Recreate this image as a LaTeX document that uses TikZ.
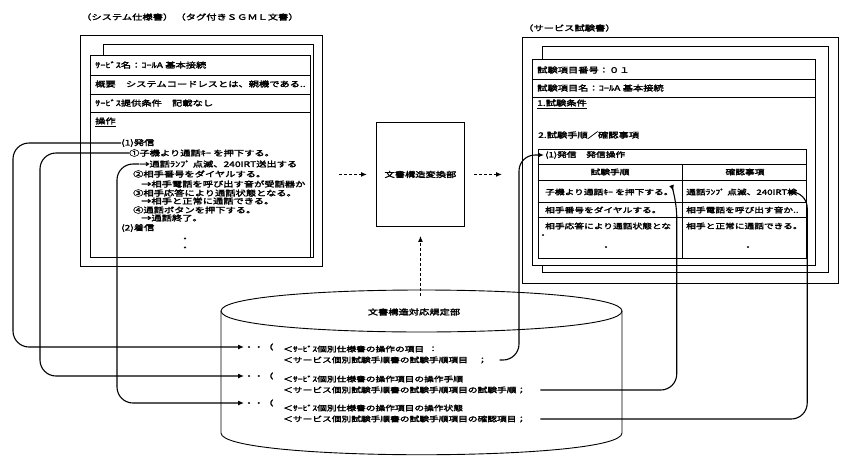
\documentclass[tikz,border=0pt]{standalone}
\usepackage{fontspec}
\usepackage{tikz}
\usetikzlibrary{positioning,arrows.meta}
\newfontfamily\jp[FakeBold=2.5,FakeStretch=1.35]{Noto Sans CJK JP}
\tikzset{>={Latex[length=6pt,width=5pt]}}
\tikzset{
  sheet/.style={draw, line width=0.9pt, fill=white, inner sep=0pt},
  txt/.style={anchor=west, inner sep=0pt, font=\jp\fontsize{7.6}{9}\selectfont},
  smalltxt/.style={txt, font=\jp\fontsize{7.2}{9}\selectfont},
  link/.style={->, line width=1.1pt, rounded corners=16pt},
  flow/.style={->, line width=1.3pt, dash pattern=on 3pt off 2pt},
}

\begin{document}
\begin{tikzpicture}[x=1pt,y=-1pt]
    \useasboundingbox (0,0) rectangle (845,455);

    % System specification (tagged SGML)
    \node[txt] (sptitle) at (81,17) {（システム仕様書）\ （タグ付きＳＧＭＬ文書）};
    \node[sheet, minimum width=242pt, minimum height=231pt, anchor=north west] (spec) at (80,35) {};
    \draw[sheet] (103,44) rectangle (313,257);
    \draw[sheet] (90,55) rectangle (310,257);
    \foreach \y in {75,94,112}
        \draw[line width=0.9pt] (90,\y) -- (310,\y);

    \node[txt] (sprow1) at (95,65) {ｻｰﾋﾞｽ名：ｺｰﾙA 基本接続};
    \node[txt] (sprow2) at (95,84) {概要　システムコードレスとは、親機である..};
    \node[txt] (sprow3) at (95,103) {ｻｰﾋﾞｽ提供条件　記載なし};
    \node[txt] (sprow4) at (95,121) {操作};
    \draw[line width=0.9pt] ([yshift=-2pt]sprow4.south west) -- ([yshift=-2pt]sprow4.south east);

    \node[txt] (hassin) at (121,143) {(1)発信};
    \node[txt] (op1) at (129,153) {①子機より通話ｷｰ を押下する。};
    \node[txt] (res1) at (139,164) {→通話ﾗﾝﾌﾟ 点滅、240IRT送出する};
    \node[txt] (op2) at (133,174) {②相手番号をダイヤルする。};
    \node[txt] (res2) at (141,184) {→相手電話を呼び出す音が受話器か};
    \node[txt] (op3) at (133,193) {③相手応答により通話状態となる。};
    \node[txt] (res3) at (141,201) {→相手と正常に通話できる。};
    \node[txt] (op4) at (133,210) {④通話ボタンを押下する。};
    \node[txt] (res4) at (141,218) {→通話終了。};
    \node[txt] (chakushin) at (121,228) {(2)着信};
    \node[txt, anchor=center, align=center] (spdots) at (185,244) {・\\・};

    % converter
    \node[draw, line width=0.9pt, minimum width=88pt, minimum height=104pt, anchor=north west,
          font=\jp\fontsize{7.6}{9}\selectfont] (conv) at (376,122) {文書構造変換部};

    % Service test document
    \node[txt] (tsttitle) at (523,28) {（サービス試験書）};
    \node[sheet, minimum width=316pt, minimum height=246pt, anchor=north west] (test) at (522,37) {};
    \draw[sheet] (542,46) rectangle (828,272);
    \draw[sheet] (532,59) rectangle (815,265);
    \draw[line width=0.9pt] (532,79) -- (815,79);
    \draw[line width=0.9pt] (532,97) -- (815,97);

    \node[txt] (tsrow1) at (537,70) {試験項目番号：０１};
    \node[txt] (tsrow2) at (537,88) {試験項目名：ｺｰﾙA 基本接続};
    \node[txt] (tsrow3) at (537,103) {1.試験条件};
    \draw[line width=0.9pt] ([yshift=-2pt]tsrow3.south west) -- ([yshift=-2pt]tsrow3.south east);
    \node[txt] (tsrow4) at (538,135) {2.試験手順／確認事項};

    % table
    \draw[line width=0.9pt] (538,149) rectangle (806,258);
    \foreach \y in {164,180,202,217}
        \draw[line width=0.9pt] (538,\y) -- (806,\y);
    \draw[line width=0.9pt] (682,164) -- (682,258);
    \node[smalltxt] (hdr) at (545,155) {(1)発信　発信操作};
    \node[smalltxt, anchor=center] (colL) at (610,172) {試験手順};
    \node[smalltxt, anchor=center] (colR) at (745,172) {確認事項};
    \node[smalltxt] (tl1) at (545,192) {子機より通話ｷｰ を押下する。};
    \node[smalltxt] (tr1) at (686,192) {通話ﾗﾝﾌﾟ 点滅、240IRT検};
    \node[smalltxt] (tl2) at (545,210) {相手番号をダイヤルする。};
    \node[smalltxt] (tr2) at (686,210) {相手電話を呼び出す音か..};
    \node[smalltxt] (tl3) at (545,226) {相手応答により通話状態とな};
    \node[smalltxt] (tr3) at (686,226) {相手と正常に通話できる。};
    \node[smalltxt, anchor=center] (tdot1) at (543,236) {・};
    \node[smalltxt, anchor=center] (tdot2) at (606,248) {・};
    \node[smalltxt, anchor=center] (tdot3) at (748,248) {・};

    % Document structure database
    \draw[line width=0.9pt] (221,311) .. controls (221,283) and (622,283) .. (622,311)
        .. controls (622,339) and (221,339) .. (221,311);
    \draw[line width=0.9pt] (221,311) -- (221,433)
        .. controls (221,462) and (622,462) .. (622,433) -- (622,311);
    \coordinate (dbtop) at (420,292);
    \node[txt, anchor=center] (dblabel) at (414,312) {文書構造対応規定部};

    \node[smalltxt] (db1) at (244,347) {・・（};
    \node[smalltxt] (db2) at (244,376) {・・（};
    \node[smalltxt] (db3) at (244,403) {・・（};
    \node[smalltxt] (dbr1a) at (283,349) {＜ｻｰﾋﾞｽ個別仕様書の操作の項目};
    \node[smalltxt] (dbr1c) at (428,349) {：};
    \node[smalltxt] (dbr1b) at (283,360) {＜サービス個別試験手順書の試験手順項目　；};
    \node[smalltxt] (dbr2a) at (283,379) {＜ｻｰﾋﾞｽ個別仕様書の操作項目の操作手順};
    \node[smalltxt] (dbr2b) at (283,390) {＜サービス個別試験手順書の試験手順項目の試験手順；};
    \node[smalltxt] (dbr3a) at (283,408) {＜ｻｰﾋﾞｽ個別仕様書の操作項目の操作状態};
    \node[smalltxt] (dbr3b) at (283,419) {＜サービス個別試験手順書の試験手順項目の確認項目；};

    % dashed flow
    \draw[flow] ([xshift=16pt]spec.east |- conv.west) -- ([xshift=-9pt]conv.west);
    \draw[flow] ([xshift=9pt]conv.east) -- ([xshift=-20pt]test.west |- conv.east);
    \draw[flow] ([yshift=-4pt]conv.south |- dbtop) -- ([yshift=-9pt]conv.south);

    % links spec -> db
    \draw[link] (hassin.west) -| ([xshift=-231pt]db1.west) -- (db1.west);
    \draw[link] (op1.west) -| ([xshift=-204pt]db2.west) -- (db2.west);
    \draw[link] (res1.west) -| ([xshift=-127pt]db3.west) -- (db3.west);

    % links db -> test
    \draw[link, shorten >=1pt] ([xshift=12pt]dbr1b.east) -| ([xshift=-26pt]hdr.west) -- (hdr.west);
    \draw[link, shorten >=1pt] ([xshift=14pt]dbr2b.east) -| ([xshift=3pt,yshift=-9pt]tl1.east) -- (tl1.east);
    \draw[link, shorten >=1pt] ([xshift=14pt]dbr3b.east) -| ([xshift=10pt]tr1.east) -- (tr1.east);

\end{tikzpicture}
\end{document}
